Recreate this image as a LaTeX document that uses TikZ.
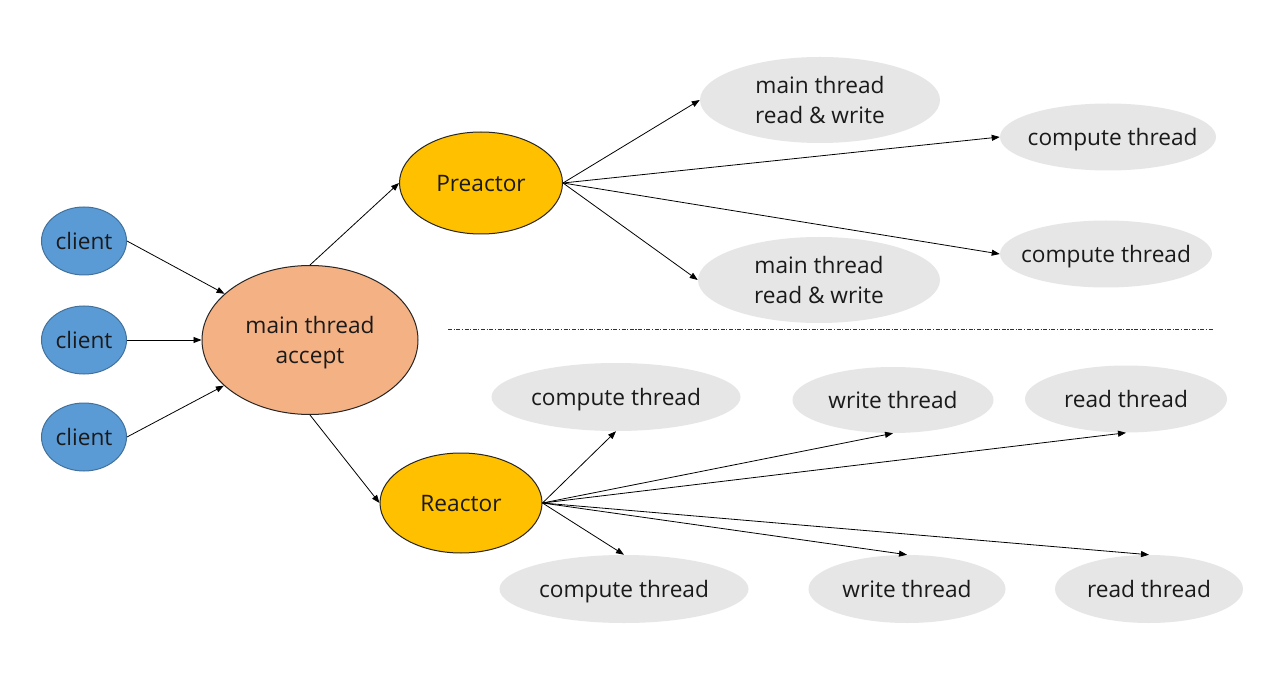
\documentclass[tikz,border=0pt]{standalone}
\usepackage{fontspec}
\setmainfont{Open Sans}
\usetikzlibrary{shapes.geometric,arrows.meta}
\definecolor{cblue}{HTML}{5B9BD5}
\definecolor{cblueb}{HTML}{41719C}
\definecolor{corange}{HTML}{F4B183}
\definecolor{cyellow}{HTML}{FFC000}
\definecolor{cgray}{HTML}{E7E6E6}
\definecolor{ctext}{HTML}{1A1A1A}
\newcommand{\tx}[1]{\raisebox{-2.2pt}[\height][\depth]{\makebox[0pt]{\begin{tabular}{@{}c@{}}#1\end{tabular}}}}
\begin{document}
\begin{tikzpicture}[x=0.75pt,y=-0.75pt,
  every node/.style={font=\fontsize{17}{22.5}\selectfont, text=ctext, inner sep=0pt},
  clientnode/.style={ellipse, fill=cblue, draw=cblueb, line width=0.75pt, minimum width=63.75pt, minimum height=51pt},
  mainnode/.style={ellipse, fill=corange, draw=black!85, line width=0.75pt},
  reactnode/.style={ellipse, fill=cyellow, draw=black!85, line width=0.75pt},
  worknode/.style={ellipse, fill=cgray},
  arr/.style={-{Triangle[length=6pt,width=4.5pt]}, line width=0.6pt, black}
]
\useasboundingbox (0,0) rectangle (1284,673);
\fill[white] (0,0) rectangle (1284,673);

\node[clientnode] (c1) at (84,241) {\tx{client}};
\node[clientnode] (c2) at (84,340) {\tx{client}};
\node[clientnode] (c3) at (84,437) {\tx{client}};
\node[mainnode, minimum width=162pt, minimum height=111.75pt] (main) at (310,340) {\tx{main thread\\accept}};
\node[reactnode, minimum width=122.25pt, minimum height=76.5pt] (P) at (481,183) {\tx{Preactor}};
\node[reactnode, minimum width=121.5pt, minimum height=75pt] (R) at (461,503) {\tx{Reactor}};

\node[worknode, minimum width=180pt, minimum height=64.5pt] (rw1) at (820,100) {\tx{main thread\\read \& write}};
\node[worknode, minimum width=162pt, minimum height=50.25pt] (ct1) at (1108,137) {\tx{\hspace*{7pt}compute thread}};
\node[worknode, minimum width=159pt, minimum height=50.25pt] (ct2) at (1106,254) {\tx{compute thread}};
\node[worknode, minimum width=181.5pt, minimum height=64.5pt] (rw2) at (819,280) {\tx{main thread\\read \& write}};

\node[worknode, minimum width=186.75pt, minimum height=51pt] (ctA) at (616,397) {\tx{compute thread}};
\node[worknode, minimum width=150.75pt, minimum height=49.5pt] (wtA) at (893,400) {\tx{write thread}};
\node[worknode, minimum width=151.5pt, minimum height=50.25pt] (rtA) at (1126,399) {\tx{read thread}};
\node[worknode, minimum width=186.75pt, minimum height=51pt] (ctB) at (624,589) {\tx{compute thread}};
\node[worknode, minimum width=147.75pt, minimum height=51pt] (wtB) at (907,589) {\tx{write thread}};
\node[worknode, minimum width=141pt, minimum height=51pt] (rtB) at (1149,589) {\tx{read thread}};

\coordinate (d1) at (448,329);
\coordinate (d2) at (1213,329);
\draw[line width=0.6pt, black!80, dash pattern=on 3pt off 1.2pt on 0.8pt off 1.2pt] (d1) -- (d2);

\draw[arr] (c1.east) -- (main);
\draw[arr] (c2.east) -- (main.west);
\draw[arr] (c3.east) -- (main);
\draw[arr] (main.north) -- (P.west);
\draw[arr] (main.south) -- (R.west);

\draw[arr] (P.east) -- (rw1.west);
\draw[arr] (P.east) -- (ct1.west);
\draw[arr] (P.east) -- (ct2.west);
\draw[arr] (P.east) -- (rw2.west);

\draw[arr] (R.east) -- (ctA.south);
\draw[arr] (R.east) -- (wtA.south);
\draw[arr] (R.east) -- (rtA.south);
\draw[arr] (R.east) -- (ctB.north);
\draw[arr] (R.east) -- (wtB.north);
\draw[arr] (R.east) -- (rtB.north);
\end{tikzpicture}
\end{document}
